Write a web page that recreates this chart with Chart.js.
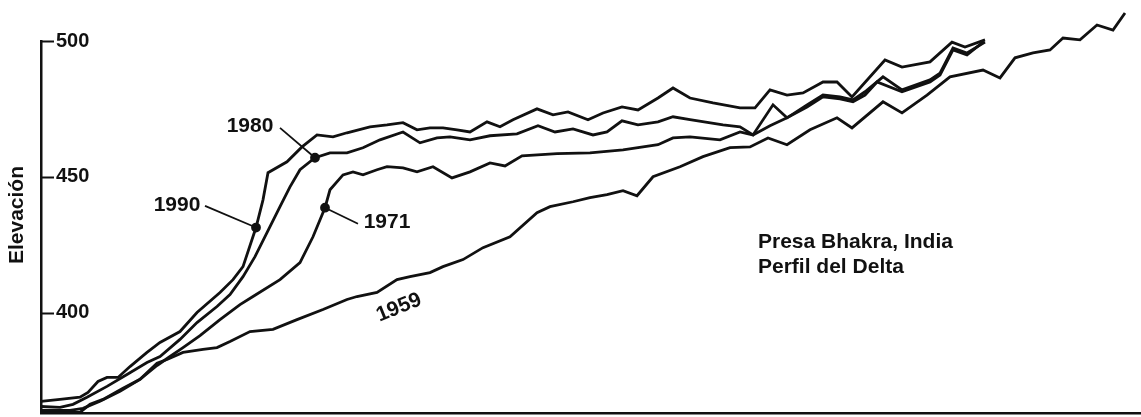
<!DOCTYPE html>
<html>
<head>
<meta charset="utf-8">
<script src="https://cdn.jsdelivr.net/npm/chart.js@4.4.1/dist/chart.umd.min.js"></script>
<style>
  html, body { margin: 0; padding: 0; background: #fff; overflow: hidden; }
  canvas { display: block; }
</style>
</head>
<body>
<canvas id="deltaChart" width="1141" height="417"></canvas>
<script>
// elevation ticks shown on the left axis
const yTicks = [400, 450, 500];

// distance along the reservoir (no scale printed) and bed elevation per survey
const dist1990 = [0.0, 1.9, 3.9, 4.7, 5.7, 6.6, 7.7, 8.9, 10.6, 11.9, 13.9, 15.6, 17.9, 19.2, 20.2, 21.5, 22.2, 22.7, 24.6, 26.1, 27.6, 29.2, 30.6, 32.9, 34.6, 36.2, 37.6, 38.9, 40.2, 41.6, 42.9, 44.6, 45.9, 47.2, 49.6, 51.2, 52.7, 54.7, 56.2, 58.1, 59.7, 61.7, 63.2, 64.9, 67.2, 69.9, 71.4, 72.9, 74.6, 76.2, 78.2, 79.6, 81.1, 84.4, 86.1, 88.9, 91.1, 92.4, 94.4];
const elev1990 = [367.3, 368.0, 368.8, 370.6, 374.6, 376.1, 376.1, 380.1, 385.3, 389.0, 393.0, 400.0, 407.4, 412.1, 416.9, 431.3, 441.5, 451.5, 455.5, 461.0, 465.4, 464.7, 466.2, 468.4, 469.1, 469.9, 467.3, 468.0, 468.0, 467.3, 466.5, 470.2, 468.4, 471.0, 475.0, 472.8, 473.9, 471.0, 473.5, 475.7, 474.6, 479.0, 482.7, 479.0, 477.2, 475.4, 475.4, 482.0, 480.1, 480.9, 484.9, 484.9, 479.4, 493.0, 490.4, 492.3, 499.6, 497.8, 500.4];

const dist1980 = [0.0, 1.9, 3.2, 4.6, 6.6, 8.6, 10.6, 11.9, 13.9, 15.6, 17.6, 18.9, 20.2, 21.4, 22.6, 23.9, 24.9, 25.9, 27.4, 28.9, 30.6, 32.2, 33.9, 36.2, 37.9, 39.6, 40.9, 42.9, 44.9, 47.6, 49.7, 51.4, 53.2, 55.2, 56.6, 58.1, 59.7, 61.7, 63.2, 64.9, 68.2, 69.9, 71.2, 73.2, 74.6, 76.6, 78.2, 79.9, 81.2, 82.4, 84.2, 86.1, 88.9, 89.9, 91.2, 92.6, 94.4];
const elev1980 = [365.4, 365.1, 366.2, 368.8, 372.8, 377.2, 381.6, 383.8, 390.1, 396.3, 402.2, 406.6, 413.2, 420.6, 429.4, 439.0, 446.3, 452.6, 457.0, 458.8, 458.8, 460.7, 463.6, 466.5, 462.5, 464.3, 464.7, 463.6, 465.1, 465.8, 468.8, 466.5, 467.6, 465.4, 466.5, 470.6, 469.1, 470.2, 472.1, 471.0, 469.1, 468.4, 465.4, 476.5, 471.7, 476.5, 480.1, 479.4, 478.3, 481.3, 486.8, 482.0, 485.7, 488.2, 497.4, 495.6, 499.6];

const dist1971 = [0.0, 2.9, 4.2, 5.9, 7.9, 9.9, 11.6, 12.9, 14.2, 15.9, 17.9, 19.9, 21.2, 23.9, 25.9, 27.2, 28.4, 28.9, 30.2, 31.2, 32.2, 33.6, 34.6, 36.2, 37.6, 39.2, 41.1, 42.9, 44.9, 46.4, 48.1, 51.6, 54.9, 58.2, 61.7, 63.2, 64.9, 67.9, 69.9, 71.2, 72.9, 74.6, 76.6, 78.2, 79.9, 81.2, 82.4, 83.6, 86.1, 88.9, 89.9, 91.2, 92.6, 94.2];
const elev1971 = [364.0, 364.0, 364.7, 367.3, 371.0, 375.4, 380.5, 383.8, 387.1, 391.5, 397.4, 402.9, 405.9, 412.1, 418.4, 427.9, 438.6, 445.2, 450.7, 451.8, 450.7, 452.6, 453.7, 453.3, 451.8, 453.7, 449.6, 451.8, 455.1, 454.0, 457.7, 458.5, 458.8, 459.9, 461.8, 464.3, 464.7, 463.6, 466.5, 465.4, 468.8, 471.7, 475.7, 479.4, 478.7, 477.6, 480.1, 484.9, 481.3, 484.9, 487.5, 496.7, 494.9, 499.6];

const dist1959 = [0.0, 3.9, 4.9, 6.2, 8.2, 9.9, 11.6, 12.6, 14.2, 16.2, 17.6, 18.9, 20.9, 23.2, 25.6, 28.2, 30.6, 31.6, 33.6, 35.6, 36.9, 38.9, 40.2, 42.2, 44.2, 46.9, 49.6, 50.9, 53.2, 54.9, 56.6, 58.2, 59.6, 61.2, 63.9, 66.2, 68.9, 70.9, 72.7, 74.6, 76.9, 79.6, 81.1, 84.2, 86.1, 88.6, 90.9, 94.2, 95.9, 97.4, 99.2, 100.9, 102.2, 103.9, 105.6, 107.2, 108.4];
const elev1959 = [363.2, 363.2, 366.2, 368.0, 372.1, 375.4, 381.3, 382.7, 385.3, 386.4, 387.1, 389.3, 393.0, 393.8, 397.4, 401.1, 404.8, 405.9, 407.4, 412.1, 413.2, 414.7, 416.9, 419.5, 423.9, 427.9, 436.8, 439.0, 440.8, 442.3, 443.4, 444.9, 443.0, 450.0, 453.7, 457.4, 460.7, 461.0, 464.3, 461.8, 467.3, 471.7, 468.0, 477.6, 473.5, 480.1, 486.8, 489.3, 486.4, 493.8, 495.6, 496.7, 501.1, 500.4, 505.9, 504.0, 510.3];

const seriesNames = ['1990', '1980', '1971', '1959'];
const seriesDist = [dist1990, dist1980, dist1971, dist1959];
const seriesElev = [elev1990, elev1980, elev1971, elev1959];
// distance at which each year's marker dot sits (null = no dot)
const markerDist = [21.5, 27.4, 28.4, null];

// year captions: text anchor and leader start, in data units
const captions = [
    { series: 0, text: '1990', x: 13.6, y: 439.7, lx: 16.4, ly: 439.3, rot: 0 },
    { series: 1, text: '1980', x: 20.9, y: 468.8, lx: 23.9, ly: 468.0, rot: 0 },
    { series: 2, text: '1971', x: 34.6, y: 433.1, lx: 31.7, ly: 432.7, rot: 0 },
    { series: 3, text: '1959', x: 35.8, y: 401.8, lx: null, ly: null, rot: -22 },
];
const noteLines = ['Presa Bhakra, India', 'Perfil del Delta'];
const yTitle = 'Elevación';

const INK = '#111';
const FONT = '"Liberation Sans", Arial, sans-serif';

const datasets = seriesNames.map((name, i) => ({
    label: name,
    data: seriesDist[i].map((d, j) => ({ x: d, y: seriesElev[i][j] })),
    borderColor: INK,
    backgroundColor: INK,
    borderWidth: 2.8,
    tension: 0,
    clip: false,
    pointRadius: (ctx) =>
        markerDist[i] !== null && seriesDist[i][ctx.dataIndex] === markerDist[i] ? 3.5 : 0,
    pointHoverRadius: 0,
}));

const decorPlugin = {
    id: 'decor',
    afterDraw(chart) {
        const { ctx, scales } = chart;
        const xs = scales.x;
        const ys = scales.y;
        ctx.save();

        // short inward tick marks on the elevation axis
        ctx.strokeStyle = INK;
        ctx.lineWidth = 2;
        yTicks.forEach((v) => {
            const py = Math.round(ys.getPixelForValue(v)) + 0.5;
            ctx.beginPath();
            ctx.moveTo(xs.left, py);
            ctx.lineTo(xs.left + 13, py);
            ctx.stroke();
        });

        // axis title
        ctx.fillStyle = INK;
        ctx.font = 'bold 21px ' + FONT;
        ctx.textAlign = 'center';
        ctx.textBaseline = 'middle';
        ctx.save();
        ctx.translate(17, 215);
        ctx.rotate(-Math.PI / 2);
        ctx.fillText(yTitle, 0, 0);
        ctx.restore();

        // year captions with leader lines to the marker dots
        ctx.font = 'bold 21px ' + FONT;
        ctx.lineWidth = 1.8;
        captions.forEach((c) => {
            const px = xs.getPixelForValue(c.x);
            const py = ys.getPixelForValue(c.y);
            if (c.lx !== null) {
                const meta = chart.getDatasetMeta(c.series);
                const idx = seriesDist[c.series].indexOf(markerDist[c.series]);
                const pt = meta.data[idx];
                ctx.beginPath();
                ctx.moveTo(xs.getPixelForValue(c.lx), ys.getPixelForValue(c.ly));
                ctx.lineTo(pt.x, pt.y);
                ctx.stroke();
            }
            ctx.save();
            ctx.translate(px, py);
            ctx.rotate((c.rot * Math.PI) / 180);
            ctx.textAlign = 'center';
            ctx.fillText(c.text, 0, 0);
            ctx.restore();
        });

        // site note
        ctx.font = 'bold 21px ' + FONT;
        ctx.textAlign = 'left';
        ctx.textBaseline = 'alphabetic';
        noteLines.forEach((t, k) => {
            ctx.fillText(t, xs.getPixelForValue(71.7), ys.getPixelForValue(423.9) + k * 25);
        });

        ctx.restore();
    },
};

new Chart(document.getElementById('deltaChart'), {
    type: 'line',
    data: { datasets },
    options: {
        responsive: false,
        animation: false,
        events: [],
        layout: { padding: { top: 41, right: 0, bottom: 4, left: 0 } },
        plugins: {
            legend: { display: false },
            tooltip: { enabled: false },
        },
        scales: {
            x: {
                type: 'linear',
                min: 0,
                max: 110,
                afterFit: (scale) => {
                    scale.height = 0;
                },
                grid: { display: false, drawTicks: false },
                ticks: { display: false },
                border: { display: true, color: INK, width: 2.5 },
            },
            y: {
                type: 'linear',
                min: 363,
                max: 500,
                afterBuildTicks: (scale) => {
                    scale.ticks = yTicks.map((v) => ({ value: v }));
                },
                afterFit: (scale) => {
                    // labels sit inside the plot, so no room is needed for them
                    scale.width = 41;
                    scale.paddingTop = 0;
                    scale.paddingBottom = 0;
                },
                grid: { display: false, drawTicks: false },
                border: { display: true, color: INK, width: 2.5 },
                ticks: {
                    mirror: true,
                    padding: 15,
                    color: INK,
                    font: { family: FONT, size: 20, weight: 'bold' },
                },
            },
        },
    },
    plugins: [decorPlugin],
});
</script>
</body>
</html>
